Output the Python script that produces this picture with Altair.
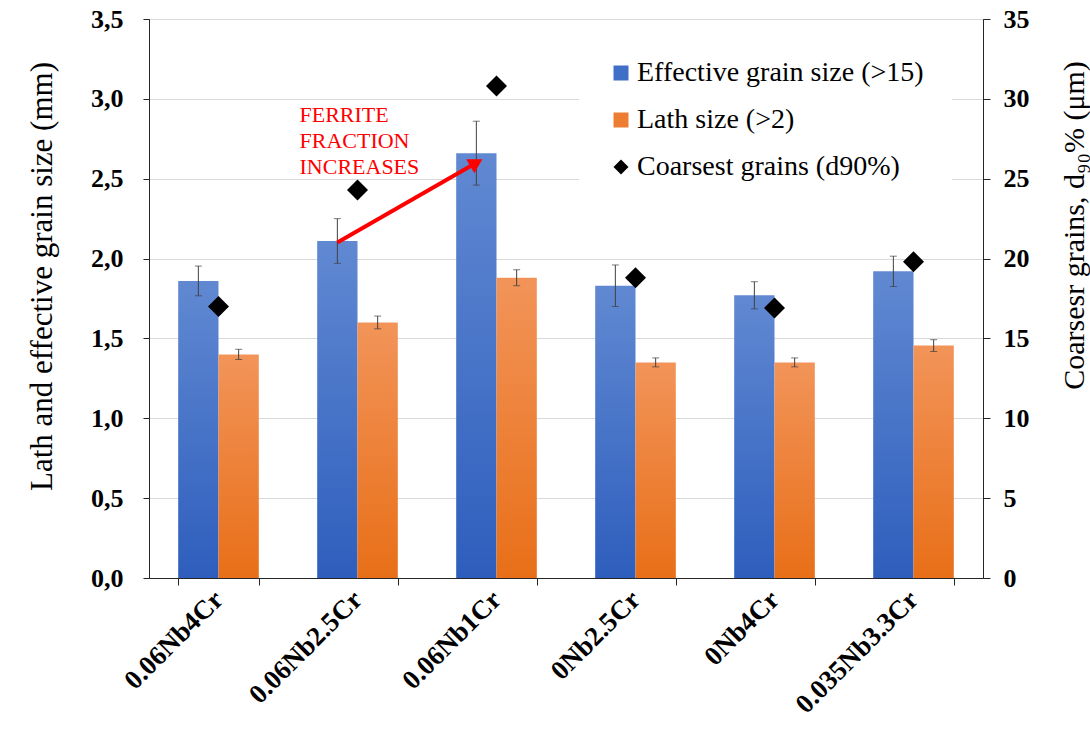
import altair as alt
import pandas as pd

# ---- data ----
categories = ["0.06Nb4Cr", "0.06Nb2.5Cr", "0.06Nb1Cr", "0Nb2.5Cr", "0Nb4Cr", "0.035Nb3.3Cr"]
effective = [1.86, 2.11, 2.66, 1.83, 1.77, 1.92]
effective_err = [0.093, 0.14, 0.20, 0.13, 0.085, 0.095]
lath = [1.40, 1.60, 1.88, 1.35, 1.35, 1.455]
lath_err = [0.032, 0.04, 0.05, 0.028, 0.028, 0.037]
coarsest = [17.0, 24.3, 30.8, 18.8, 16.9, 19.8]

series_names = ["Effective grain size (>15)", "Lath size (>2)", "Coarsest grains (d90%)"]
left_ticks = [0, 0.5, 1.0, 1.5, 2.0, 2.5, 3.0, 3.5]
right_ticks = [0, 5, 10, 15, 20, 25, 30, 35]

arrow_cats = ["0.06Nb2.5Cr", "0.06Nb1Cr"]
arrow_vals = [2.10, 2.60]
note_cat = ["0.06Nb2.5Cr"]
note_val = [2.855]
note_text = ["FERRITE\nFRACTION\nINCREASES"]

# ---- tables ----
rows = []
for c, v, e in zip(categories, effective, effective_err):
    rows.append({"cat": c, "series": series_names[0], "value": v, "lo": v - e, "hi": v + e})
for c, v, e in zip(categories, lath, lath_err):
    rows.append({"cat": c, "series": series_names[1], "value": v, "lo": v - e, "hi": v + e})
bars_df = pd.DataFrame(rows)
pts_df = pd.DataFrame({"cat": categories, "series": series_names[2], "d90": coarsest})
arrow_df = pd.DataFrame({"cat": arrow_cats, "series": series_names[0], "value": arrow_vals})
head_df = arrow_df.iloc[[1]]
note_df = pd.DataFrame({"cat": note_cat, "value": note_val, "txt": note_text})

FONT = "Liberation Serif"
AX = "#262626"

x_enc = alt.X("cat:N", sort=categories,
              scale=alt.Scale(paddingInner=0.42, paddingOuter=0.21),
              axis=alt.Axis(title=None, labelAngle=-45, labelAlign="right", labelBaseline="middle",
                            labelFont=FONT, labelFontWeight="bold", labelFontSize=27, labelColor="black",
                            labelPadding=10, tickBand="extent", tickSize=7, tickColor=AX,
                            domainColor=AX, grid=False, labelLimit=300))
xoff = alt.XOffset("series:N", scale=alt.Scale(domain=series_names[:2]))

left_axis = alt.Axis(title="Lath and effective grain size (mm)", values=left_ticks,
                     labelExpr="replace(format(datum.value, '.1f'), '.', ',')",
                     labelFont=FONT, labelFontWeight="bold", labelFontSize=26, labelColor="black",
                     labelPadding=20, tickSize=6, tickColor=AX, domainColor=AX,
                     grid=True, gridColor="#d9d9d9",
                     titleFont=FONT, titleFontSize=31, titleFontWeight="normal", titleColor="black",
                     titleAngle=270, titleX=-107, titleY=257, titleAlign="center", titleBaseline="middle")
yscale = alt.Scale(domain=[0, 3.5], nice=False)


def yl(field):
    return alt.Y(field, type="quantitative", scale=yscale, axis=left_axis)


blue_grad = alt.Gradient(gradient="linear",
                         stops=[alt.GradientStop(color="#6189D2", offset=0),
                                alt.GradientStop(color="#2E5EBD", offset=1)],
                         x1=0, x2=0, y1=0, y2=1)
orange_grad = alt.Gradient(gradient="linear",
                           stops=[alt.GradientStop(color="#F29459", offset=0),
                                  alt.GradientStop(color="#E86F18", offset=1)],
                           x1=0, x2=0, y1=0, y2=1)

base = alt.Chart(bars_df)
blue_bars = base.transform_filter(alt.datum.series == series_names[0]).mark_bar(
    color=blue_grad).encode(x=x_enc, xOffset=xoff, y=yl("value"))
orange_bars = base.transform_filter(alt.datum.series == series_names[1]).mark_bar(
    color=orange_grad).encode(x=x_enc, xOffset=xoff, y=yl("value"))
err_rule = base.mark_rule(color="#404040", strokeWidth=1).encode(
    x=x_enc, xOffset=xoff, y=yl("lo"), y2="hi:Q")
cap_lo = base.mark_tick(color="#404040", thickness=1, size=7).encode(x=x_enc, xOffset=xoff, y=yl("lo"))
cap_hi = base.mark_tick(color="#404040", thickness=1, size=7).encode(x=x_enc, xOffset=xoff, y=yl("hi"))

arrow_line = alt.Chart(arrow_df).mark_line(color="#FF0000", strokeWidth=4).encode(
    x=x_enc, xOffset=xoff, y=yl("value"))
arrow_head = alt.Chart(head_df).mark_point(shape="triangle-up", filled=True, color="#FF0000",
                                            size=260, angle=60, opacity=1).encode(
    x=x_enc, xOffset=xoff, y=yl("value"))
note = alt.Chart(note_df).mark_text(color="#FF0000", font=FONT, fontSize=22, align="left",
                                    baseline="alphabetic", lineBreak="\n", lineHeight=26, dx=-58).encode(
    x=x_enc, y=yl("value"), text="txt:N")

left = alt.layer(blue_bars, orange_bars, err_rule, cap_lo, cap_hi, arrow_line, arrow_head, note)

legend = alt.Legend(orient="none", legendX=430, legendY=12, title=None,
                    labelFont=FONT, labelFontSize=28, labelColor="black", labelLimit=400,
                    symbolSize=225, rowPadding=19, padding=28, fillColor="white",
                    labelOffset=2, symbolStrokeWidth=0)

points = alt.Chart(pts_df).mark_point(filled=True, size=441, opacity=1).encode(
    x=x_enc,
    y=alt.Y("d90:Q", scale=alt.Scale(domain=[0, 35], nice=False),
            axis=alt.Axis(orient="right", title="Coarsesr grains, d₉₀% (μm)", values=right_ticks,
                          labelFont=FONT, labelFontWeight="bold", labelFontSize=26, labelColor="black",
                          labelPadding=13, tickSize=7, tickColor=AX, domainColor=AX, grid=False,
                          titleFont=FONT, titleFontSize=30, titleFontWeight="normal", titleColor="black",
                          titleAngle=270, titleX=91, titleY=206, titleAlign="center",
                          titleBaseline="middle")),
    color=alt.Color("series:N", scale=alt.Scale(domain=series_names,
                                                range=["#3F6FC7", "#EE7D34", "#000000"]),
                    legend=legend),
    shape=alt.Shape("series:N", scale=alt.Scale(domain=series_names,
                                                range=["square", "square", "diamond"]),
                    legend=legend),
)

chart = alt.layer(left, points).resolve_scale(y="independent").properties(
    width=834, height=559,
    padding={"left": 149, "top": 19, "right": 107, "bottom": 154},
    autosize=alt.AutoSizeParams(type="none"),
    background="white",
).configure_view(stroke=AX, strokeWidth=1)

chart.save("out.html", embed_options={"renderer": "svg", "actions": False})
